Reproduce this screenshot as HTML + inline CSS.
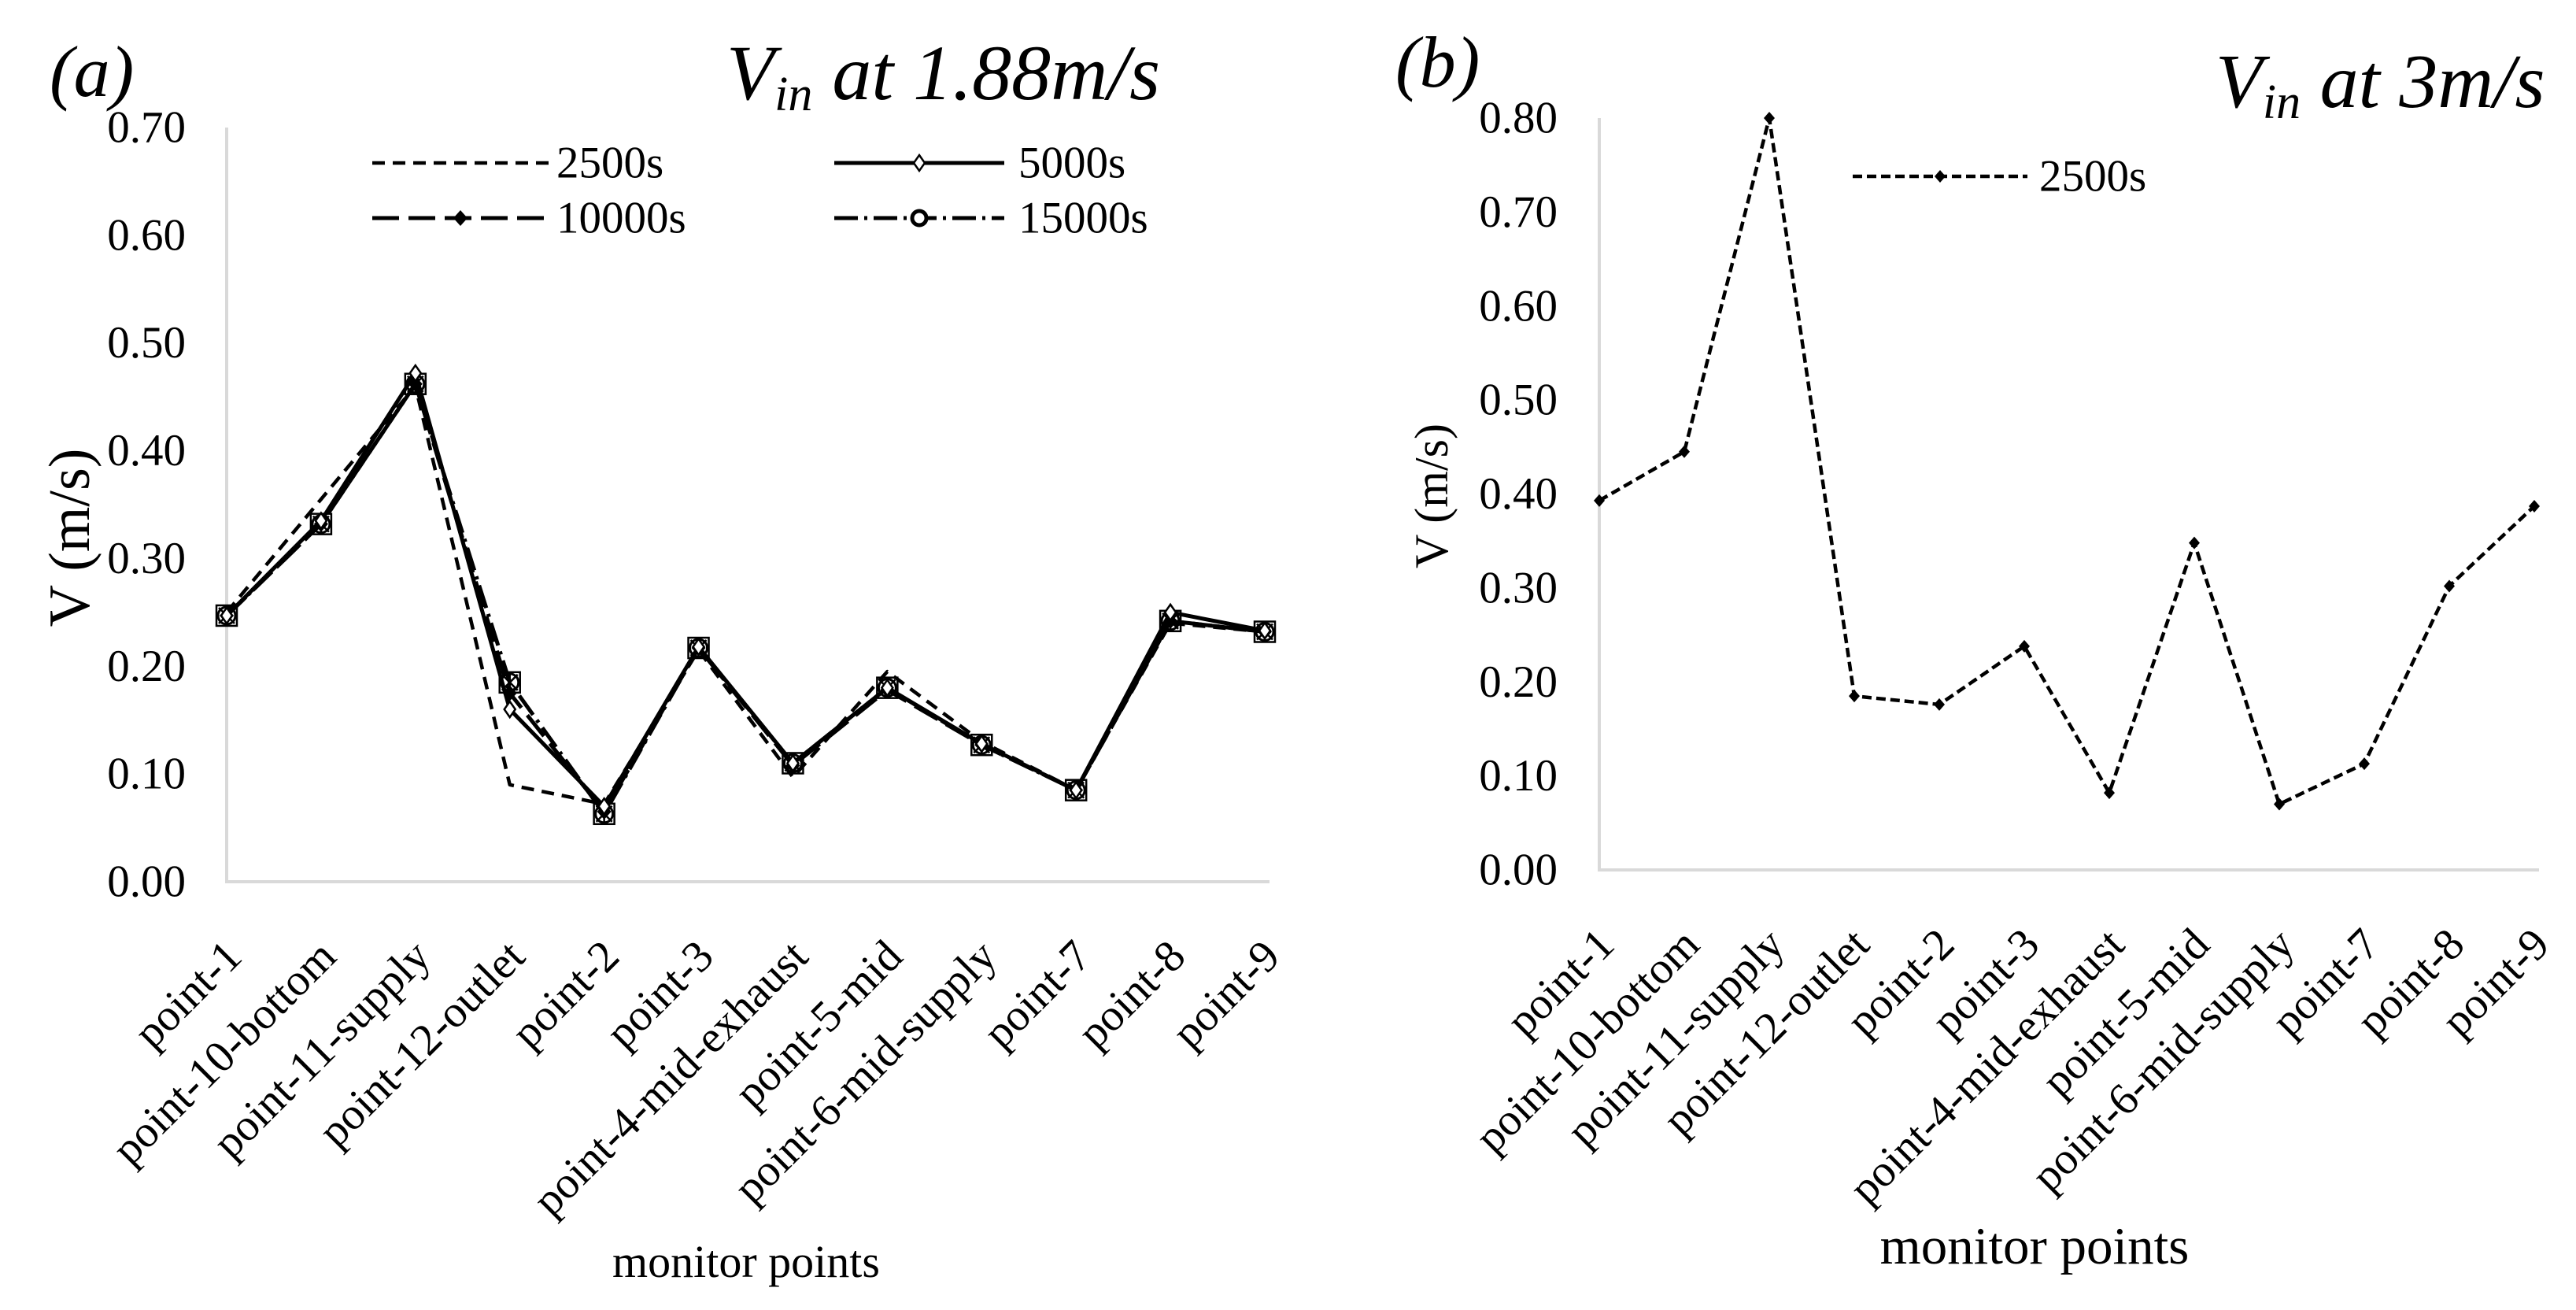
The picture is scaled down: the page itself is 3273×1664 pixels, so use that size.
<!DOCTYPE html>
<html><head><meta charset="utf-8"><style>
html,body{margin:0;padding:0;background:#fff}
svg{display:block;font-family:"Liberation Serif",serif}
</style></head><body>
<svg id="fig" width="3273" height="1664" viewBox="0 0 3273 1664" xmlns="http://www.w3.org/2000/svg">
<g id="chartA"></g>
<g id="chartB"></g>
<text x="63" y="122" font-size="92" font-style="italic">(a)</text>
<text x="923" y="126" font-size="100" font-style="italic">V<tspan font-size="62" dy="14">in</tspan><tspan dy="-14"> at 1.88m/s</tspan></text>
<text x="1773" y="110" font-size="92" font-style="italic">(b)</text>
<text x="2815" y="136" font-size="98" font-style="italic">V<tspan font-size="62" dy="14">in</tspan><tspan dy="-14"> at 3m/s</tspan></text>
<text x="96" y="683" font-size="74" text-anchor="middle" transform="rotate(-90 96 683)" dominant-baseline="middle">V (m/s)</text>
<text x="1825" y="630" font-size="60" text-anchor="middle" transform="rotate(-90 1825 630)" dominant-baseline="middle">V (m/s)</text>
<text x="948" y="1622" font-size="58" text-anchor="middle">monitor points</text>
<text x="2585" y="1605" font-size="67" text-anchor="middle">monitor points</text>
</svg>
<script>
const categories = ["point-1","point-10-bottom","point-11-supply","point-12-outlet","point-2","point-3","point-4-mid-exhaust","point-5-mid","point-6-mid-supply","point-7","point-8","point-9"];
const seriesNamesA = ["2500s","5000s","10000s","15000s"];
const s2500 = [0.250,0.355,0.460,0.090,0.072,0.215,0.097,0.195,0.130,0.085,0.240,0.232];
const s5000 = [0.247,0.335,0.472,0.160,0.070,0.218,0.110,0.180,0.128,0.085,0.250,0.233];
const s10000 = [0.247,0.332,0.462,0.175,0.065,0.217,0.108,0.178,0.127,0.085,0.242,0.232];
const s15000 = [0.247,0.332,0.462,0.185,0.063,0.217,0.110,0.180,0.127,0.085,0.242,0.232];
const sB2500 = [0.393,0.445,0.800,0.185,0.176,0.238,0.082,0.348,0.070,0.113,0.302,0.387];
const ticksA = ["0.00","0.10","0.20","0.30","0.40","0.50","0.60","0.70"];
const ticksB = ["0.00","0.10","0.20","0.30","0.40","0.50","0.60","0.70","0.80"];

const NS="http://www.w3.org/2000/svg";
function mk(tag,attrs,parent){const e=document.createElementNS(NS,tag);for(const k in attrs)e.setAttribute(k,attrs[k]);parent.appendChild(e);return e;}

function drawChart(g,cfg){
  const xs=i=>cfg.x0+(cfg.x1-cfg.x0)*i/(categories.length-1);
  const ys=v=>cfg.yB-(cfg.yB-cfg.yT)*v/cfg.max;
  const ax=mk('polyline',{points:`${cfg.x0},${cfg.yT} ${cfg.x0},${cfg.yB} ${cfg.x1+6},${cfg.yB}`,fill:'none',stroke:'#d9d9d9','stroke-width':4},g);
  
  
  cfg.ticks.forEach(t=>{
    const tx=mk('text',{x:cfg.labR,y:ys(parseFloat(t)),'font-size':cfg.fs,'text-anchor':'end','dominant-baseline':'central'},g);
    tx.textContent=t;
    
    
  });
  categories.forEach((c,i)=>{
    const px=xs(i)+22, py=cfg.yB+98;
    const tx=mk('text',{x:px,y:py,'font-size':cfg.fs,'text-anchor':'end',transform:`rotate(-45 ${px} ${py})`},g);
    tx.textContent=c;
    
    
  });
  cfg.series.forEach(s=>{
    const pts=s.data.map((v,i)=>xs(i)+','+ys(v)).join(' ');
    const pl=mk('polyline',{points:pts,fill:'none',stroke:'#000','stroke-width':s.w,'stroke-dasharray':s.dash,'stroke-linejoin':'round'},g);
    
    
    s.data.forEach((v,i)=>drawMarker(g,s.marker,xs(i),ys(v),s.name));
  });
}
function drawMarker(g,type,x,y,name){
  let m=null;
  if(type==='hdiamond') m=mk('polygon',{points:`${x},${y-10} ${x+7},${y} ${x},${y+10} ${x-7},${y}`,fill:'#fff',stroke:'#000','stroke-width':2.5},g);
  else if(type==='fdiamond') m=mk('polygon',{points:`${x},${y-10} ${x+9},${y} ${x},${y+10} ${x-9},${y}`,fill:'#000'},g);
  else if(type==='sdiamond') m=mk('polygon',{points:`${x},${y-8} ${x+7},${y} ${x},${y+8} ${x-7},${y}`,fill:'#000'},g);
  else if(type==='ring') m=mk('circle',{cx:x,cy:y,r:9,fill:'#fff',stroke:'#000','stroke-width':5},g);
  else if(type==='circle'){
    m=mk('g',{},g);
    mk('rect',{x:x-13,y:y-13,width:26,height:26,fill:'none',stroke:'#000','stroke-width':2.5},m);
    mk('path',{d:`M${x-10},${y-10}L${x+10},${y+10}M${x+10},${y-10}L${x-10},${y+10}M${x},${y-12}L${x},${y+12}`,stroke:'#000','stroke-width':2.5},m);
    mk('circle',{cx:x,cy:y,r:11,fill:'none',stroke:'#000','stroke-width':3},m);
  }
  if(m){
    
    
  }
}
function legend(g,x1,x2,y,dash,w,marker,label,tx,fs,name){
  const l=mk('line',{x1:x1,y1:y,x2:x2,y2:y,stroke:'#000','stroke-width':w,'stroke-dasharray':dash},g);
  
  
  drawMarker(g,marker,(x1+x2)/2,y,'legend-'+name);
  const t=mk('text',{x:tx,y:y,'font-size':fs,'dominant-baseline':'central'},g);
  t.textContent=label;
  
  
}
const gA=document.getElementById('chartA'), gB=document.getElementById('chartB');
drawChart(gA,{x0:288,x1:1607,yT:162,yB:1120,max:0.7,ticks:ticksA,labR:236,fs:57,series:[
  {name:seriesNamesA[0],data:s2500,dash:'16 10',w:4.5,marker:'none'},
  {name:seriesNamesA[2],data:s10000,dash:'34 12',w:5,marker:'fdiamond'},
  {name:seriesNamesA[3],data:s15000,dash:'30 8 4 8',w:5,marker:'circle'},
  {name:seriesNamesA[1],data:s5000,dash:'none',w:5,marker:'hdiamond'}
]});
drawChart(gB,{x0:2032,x1:3220,yT:150,yB:1105,max:0.8,ticks:ticksB,labR:1979,fs:57,series:[
  {name:'b-2500s',data:sB2500,dash:'12 6',w:4.5,marker:'sdiamond'}
]});
legend(gA,473,697,207,'16 10',4.5,'none',seriesNamesA[0],707,57,'2500s');
legend(gA,1060,1276,207,'none',5,'hdiamond',seriesNamesA[1],1294,57,'5000s');
legend(gA,473,697,277,'34 12',5,'fdiamond',seriesNamesA[2],707,57,'10000s');
legend(gA,1060,1276,277,'30 8 4 8',5,'ring',seriesNamesA[3],1294,57,'15000s');
legend(gB,2354,2576,224,'12 6',4.5,'sdiamond','2500s',2591,57,'b-2500s');
</script>
</body></html>
